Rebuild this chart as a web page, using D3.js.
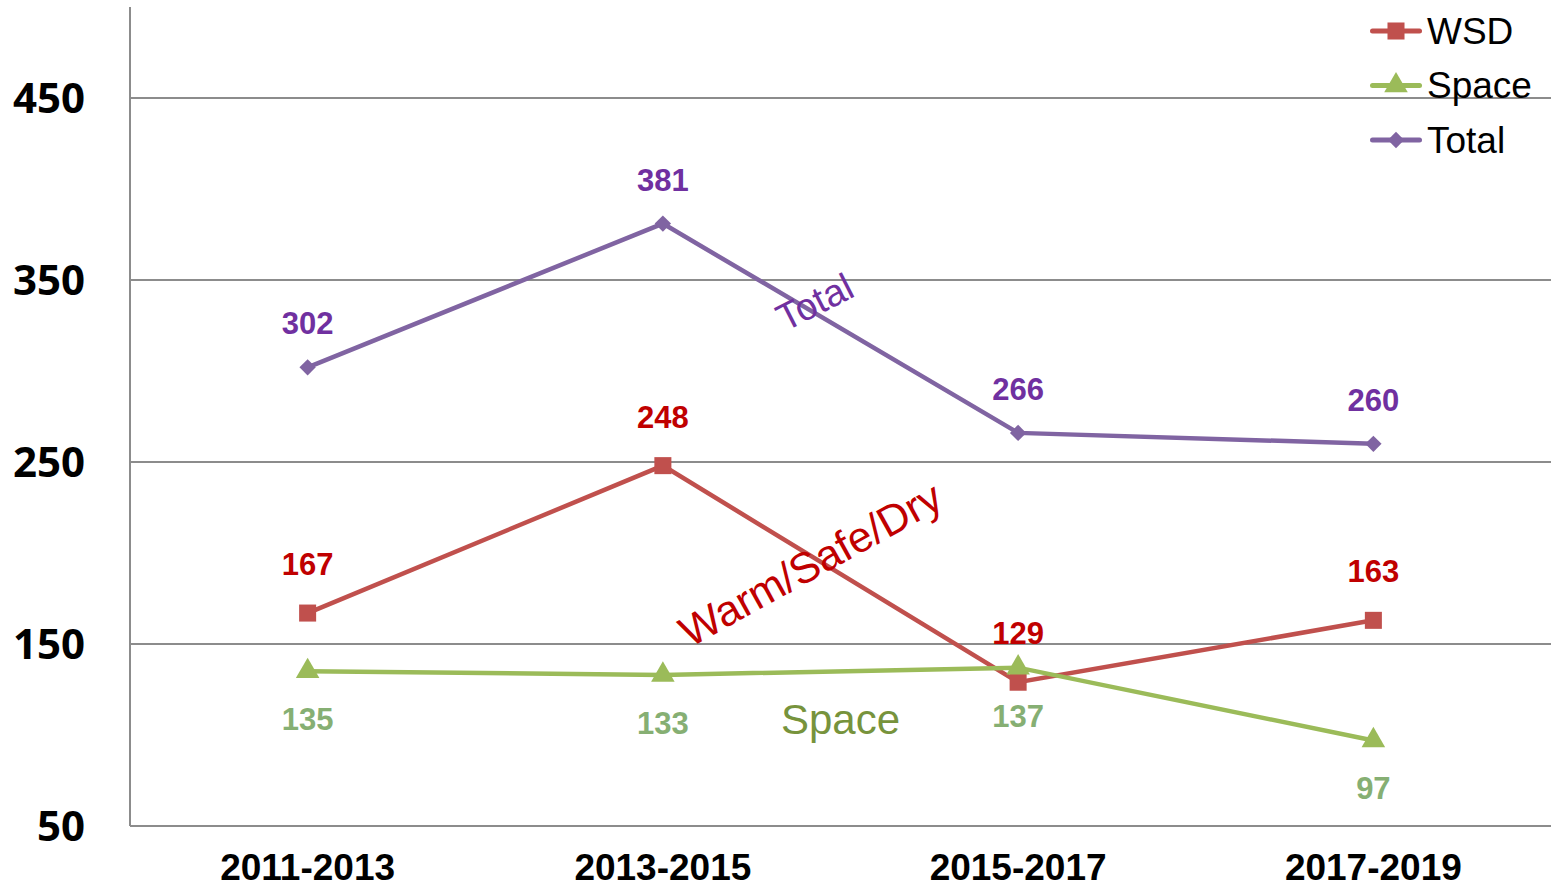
<!DOCTYPE html>
<html>
<head>
<meta charset="utf-8">
<script src="https://cdn.jsdelivr.net/npm/d3@7"></script>
<style>
  body { margin: 0; background: #fff; }
  svg { display: block; }
</style>
</head>
<body>
<div id="chart"></div>
<script>
var categories = ['2011-2013', '2013-2015', '2015-2017', '2017-2019'];
var wsd = [167, 248, 129, 163];
var space = [135, 133, 137, 97];
var total = [302, 381, 266, 260];
var yTicks = [50, 150, 250, 350, 450];

(function() {
var width = 1558, height = 888;
var plotLeft = 130, plotRight = 1551, plotTop = 7, plotBottom = 826;

var svg = d3.select('#chart').append('svg')
    .attr('width', width)
    .attr('height', height);

var x = d3.scaleBand()
    .domain(categories)
    .range([plotLeft, plotRight]);

var y = d3.scaleLinear()
    .domain([50, 500])
    .range([plotBottom, plotTop]);

var cx = d => x(d) + x.bandwidth() / 2;

// gridlines
svg.append('g').selectAll('line')
    .data(yTicks.filter(d => d > 50))
    .enter().append('line')
    .attr('x1', plotLeft).attr('x2', plotRight)
    .attr('y1', d => y(d)).attr('y2', d => y(d))
    .style('stroke', '#8c8c8c')
    .style('stroke-width', 2);

// axis lines
svg.append('line')
    .attr('x1', plotLeft).attr('x2', plotLeft)
    .attr('y1', plotTop).attr('y2', plotBottom)
    .style('stroke', '#8c8c8c').style('stroke-width', 2);
svg.append('line')
    .attr('x1', plotLeft).attr('x2', plotRight)
    .attr('y1', plotBottom).attr('y2', plotBottom)
    .style('stroke', '#8c8c8c').style('stroke-width', 2);

// y tick labels
svg.append('g').selectAll('text')
    .data(yTicks)
    .enter().append('text')
    .attr('x', 85)
    .attr('y', d => y(d))
    .attr('dy', '0.36em')
    .style('text-anchor', 'end')
    .style('font', 'bold 42px "Open Sans", sans-serif')
    .style('fill', '#000')
    .text(d => d);

// x labels
svg.append('g').selectAll('text')
    .data(categories)
    .enter().append('text')
    .attr('x', cx)
    .attr('y', 880)
    .style('text-anchor', 'middle')
    .style('font', 'bold 37px "Liberation Sans", Arial, sans-serif')
    .style('fill', '#000')
    .text(d => d);

var series = [
    { name: 'WSD', values: wsd, line: '#C0504D', label: '#C00000', marker: 'square', dy: -38 },
    { name: 'Space', values: space, line: '#9BBB59', label: '#86AF73', marker: 'triangle', dy: 59 },
    { name: 'Total', values: total, line: '#8064A2', label: '#7030A0', marker: 'diamond', dy: -33 }
];

var symbols = {
    square: d3.symbol().type(d3.symbolSquare).size(290),
    triangle: d3.symbol().type(d3.symbolTriangle).size(240),
    diamond: d3.symbol().type(d3.symbolDiamond2).size(170)
};

var line = d3.line()
    .x((d, i) => cx(categories[i]))
    .y(d => y(d));

series.forEach(function(s) {
    var g = svg.append('g');
    g.append('path')
        .datum(s.values)
        .attr('d', line)
        .style('fill', 'none')
        .style('stroke', s.line)
        .style('stroke-width', 4.5);
    g.selectAll('path.m')
        .data(s.values)
        .enter().append('path')
        .attr('class', 'm')
        .attr('d', symbols[s.marker])
        .attr('transform', (d, i) => `translate(${cx(categories[i])},${y(d)})`)
        .style('fill', s.line);
    g.selectAll('text')
        .data(s.values)
        .enter().append('text')
        .attr('x', (d, i) => cx(categories[i]))
        .attr('y', d => y(d) + s.dy)
        .style('text-anchor', 'middle')
        .style('font', 'bold 31px "Liberation Sans", Arial, sans-serif')
        .style('fill', s.label)
        .text(d => d);
});

// in-chart annotations
svg.append('text')
    .attr('transform', 'translate(785,332) rotate(-27)')
    .style('font', '38px "Liberation Sans", Arial, sans-serif')
    .style('fill', '#7030A0')
    .text('Total');
svg.append('text')
    .attr('transform', 'translate(690,648) rotate(-29)')
    .style('font', '43px "Liberation Sans", Arial, sans-serif')
    .style('fill', '#C00000')
    .text('Warm/Safe/Dry');
svg.append('text')
    .attr('x', 781).attr('y', 734)
    .style('font', '42px "Liberation Sans", Arial, sans-serif')
    .style('fill', '#77933C')
    .text('Space');

// legend
var legend = svg.append('g').selectAll('g')
    .data(series)
    .enter().append('g')
    .attr('transform', (d, i) => `translate(1370,${31 + i * 54.5})`);
legend.append('rect')
    .attr('x', 0).attr('y', -2.5)
    .attr('width', 52).attr('height', 5)
    .attr('rx', 2.5)
    .style('fill', d => d.line);
legend.append('path')
    .attr('d', d => symbols[d.marker]())
    .attr('transform', 'translate(26,0)')
    .style('fill', d => d.line);
legend.append('text')
    .attr('x', 57)
    .attr('dy', '0.35em')
    .style('font', '37px "Liberation Sans", Arial, sans-serif')
    .style('fill', '#000')
    .text(d => d.name);
})();
</script>
</body>
</html>
